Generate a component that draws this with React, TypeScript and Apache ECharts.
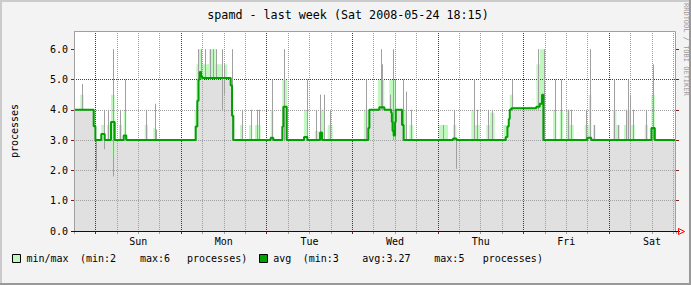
import React, { useEffect, useRef } from "react";
import * as echarts from "echarts";

// hours since Sat 2008-05-17 00:00
const DAY_LABELS = ["Sun", "Mon", "Tue", "Wed", "Thu", "Fri", "Sat"];
const DAY_LABEL_HOURS = [36, 60, 84, 108, 132, 156, 180];
const MIDNIGHT_HOURS = [24, 48, 72, 96, 120, 144, 168];
const Y_MAJOR = [0, 1, 2, 3, 4, 5, 6];

const MAX_T = [18, 19.77, 20.72, 24.17, 25.65, 26.61, 27.25, 28.01, 28.37, 29.41, 30.62, 31.46, 31.93, 32.66, 37.82, 38.75, 40.23, 40.99,
  51.8, 52.3, 52.76, 53.69, 55.85, 57.72, 59.58, 60.05, 60.98, 62.0, 62.66,
  64.54, 65.46, 67.06, 67.99, 68.74, 70.34, 73.14, 73.87, 76.4, 77.8, 82.48, 83.41, 85.5, 86.6, 87.0, 88.17, 89.12, 90.53,
  99.22, 103.14, 104.99, 106.39, 108.27, 111.08, 112.0, 113.12,
  120.33, 122.85, 124.25, 125.18, 129.38, 130.4, 131.74, 133.59, 134.6, 135.94, 138.4, 140.15, 141.16, 147.6, 148.56, 149.96,
  152.29, 153.22, 154.17, 155.09, 156.02, 156.97, 158.09, 161.17, 162.38, 163.02, 163.5, 164.15,
  169.11, 170.04, 170.99, 172.19, 173.03, 173.79, 174.24, 175.19, 177.99, 178.92, 179.84, 180.79, 186.75];
const MAX_V = [4.0, 4.5, 4.0, 3.0, 3.5, 3.0, 3.5, 3.0, 4.5, 3.0, 3.5, 3.0, 4.0, 3.0, 3.5, 3.0, 3.4, 3.0,
  4.0, 5.5, 6.0, 5.5, 6.0, 5.5, 5.0, 5.5, 5.0, 4.0, 3.0,
  3.5, 3.0, 3.5, 3.0, 3.5, 3.0, 4.0, 3.0, 5.0, 3.0, 4.0, 3.0, 3.3, 3.0, 4.0, 3.0, 3.5, 3.0,
  4.0, 5.0, 4.0, 5.0, 4.0, 3.0, 3.5, 3.0,
  3.5, 3.0, 3.5, 3.0, 4.0, 3.5, 3.0, 3.5, 3.9, 3.0, 3.5, 4.5, 4.1, 5.5, 6.0, 3.0,
  4.0, 3.0, 4.0, 3.0, 4.0, 3.5, 3.0, 3.5, 4.5, 3.0, 3.5, 3.0,
  4.0, 3.5, 3.0, 3.5, 4.0, 3.0, 3.5, 3.0, 3.5, 3.0, 4.5, 3.0, 3.0];

const MIN_T = [18, 23.52, 24.0, 24.17, 24.53, 26.1, 26.5, 28.46, 29.3, 52.12, 52.57, 52.9, 61.93, 62.3, 62.66,
  100.5, 100.8, 106.9, 107.1, 108.2, 109.95, 110.4, 125.1, 125.5, 139.03, 139.5, 139.87, 140.15, 149.57, 186.75];
const MIN_V = [4.0, 3.5, 3.0, 2.5, 3.0, 2.8, 3.0, 2.45, 3.0, 3.4, 4.2, 5.0, 4.6, 3.6, 3.0,
  3.3, 4.0, 3.6, 3.0, 4.0, 3.3, 3.0, 2.55, 3.0, 3.1, 3.4, 3.7, 4.0, 3.0, 3.0];

const AVG_T = [18, 23.52, 24.0, 25.65, 26.61, 28.37, 29.41, 31.93, 32.66, 52.12, 52.57, 52.9, 53.24, 53.6, 53.97, 61.93, 62.3, 62.66,
  73.14, 73.87, 76.4, 76.68, 77.63, 82.48, 83.41, 86.97, 87.53,
  100.5, 100.8, 103.6, 105.0, 106.9, 107.1, 107.3, 107.6, 108.0, 108.2, 109.95, 110.4,
  124.25, 125.18, 139.03, 139.5, 139.87, 140.15, 140.6, 147.61, 148.56, 149.2, 149.57, 161.9, 163.0, 179.86, 180.81, 186.75];
const AVG_V = [4.0, 3.46, 3.0, 3.2, 3.0, 3.6, 3.0, 3.15, 3.0, 3.45, 4.3, 5.0, 5.25, 5.1, 5.05, 4.8, 3.8, 3.0,
  3.08, 3.0, 3.45, 4.1, 3.0, 3.1, 3.0, 3.25, 3.0,
  3.4, 4.0, 4.08, 4.0, 3.9, 3.6, 3.3, 3.15, 3.6, 4.0, 3.5, 3.0,
  3.05, 3.0, 3.1, 3.45, 3.7, 4.0, 4.05, 4.1, 4.2, 4.5, 3.0, 3.08, 3.0, 3.4, 3.0, 3.0];

const SPIKE_T = [20.2, 24.3, 26.3, 27.6, 28.9, 31.0, 32.3, 38.3, 40.6, 40.9,
  52.85, 53.69, 54.73, 56.13, 57.06, 57.72, 59.4, 60.14, 62.21,
  65.0, 67.5, 69.2, 69.9, 73.5, 76.8, 83.2, 85.84, 87.0, 88.0, 89.8,
  99.8, 104.07, 104.34, 106.6, 107.52, 107.98, 110.15, 111.08, 112.48,
  121.45, 124.53, 125.18, 130.14, 131.06, 134.06, 135.18, 140.8, 148.1, 149.77,
  152.77, 154.45, 156.49, 157.42, 161.62, 162.74, 163.78, 169.39, 170.51, 172.67, 173.31, 173.79, 174.72, 178.45, 180.33];
const SPIKE_LO = [4.0, 2.0, 2.7, 3.0, 1.8, 3.0, 3.0, 3.0, 3.0, 3.0,
  5.0, 5.0, 5.0, 5.0, 5.0, 5.0, 4.0, 4.5, 3.0,
  3.0, 3.0, 3.0, 3.0, 3.0, 3.0, 3.0, 3.0, 3.0, 3.0, 3.0,
  3.0, 4.0, 4.0, 4.0, 3.0, 3.0, 3.0, 3.0, 3.0,
  3.0, 3.0, 2.05, 3.0, 3.0, 3.0, 3.0, 4.0, 4.0, 3.0,
  3.0, 3.0, 3.0, 3.0, 3.0, 3.0, 3.0, 3.0, 3.0, 3.0, 3.0, 3.0, 3.0, 3.0, 3.0];
const SPIKE_HI = [4.85, 3.0, 4.0, 4.0, 6.0, 4.0, 5.0, 4.0, 4.2, 3.35,
  6.0, 6.0, 6.0, 6.0, 6.0, 6.0, 6.0, 5.5, 6.0,
  4.0, 4.0, 4.0, 4.0, 5.0, 6.0, 5.0, 4.0, 4.5, 4.5, 4.0,
  5.0, 6.0, 5.5, 4.5, 6.0, 5.0, 5.0, 4.6, 4.0,
  3.5, 4.0, 3.0, 5.0, 4.0, 4.0, 4.0, 5.0, 6.0, 6.0,
  5.0, 5.0, 4.0, 4.0, 4.0, 6.0, 3.5, 5.0, 3.5, 4.0, 5.0, 4.5, 4.0, 4.0, 5.5];

const GRID_C = "#a0a0a0";
const MGRID_C = "#821e1e";
const FONT = '"DejaVu Sans Mono", monospace';

const pairs = (t: number[], v: number[]) => t.map((x, i) => [x, v[i]]);
const isInt = (v: number) => Math.abs(v - Math.round(v)) < 1e-6;

export default function App() {
  const ref = useRef<HTMLDivElement>(null);
  useEffect(() => {
    const chart = echarts.init(ref.current!, null, { renderer: "svg" });
    const txt = (text: string, x: number, y: number, extra: any = {}) => ({
      type: "text", x, y, z: 100,
      style: { text, fill: "#000", font: `10px ${FONT}`, textAlign: "left", textVerticalAlign: "middle", ...extra },
    });
    chart.setOption({
      animation: false,
      backgroundColor: "#f3f3f3",
      textStyle: { fontFamily: FONT },
      grid: { left: 74, top: 31, width: 602, height: 200, show: true, backgroundColor: "#ffffff", borderWidth: 0 },
      xAxis: [
        {
          type: "value", position: "bottom", min: 18, max: 186.75, interval: 6, z: 5,
          axisLine: { show: false },
          axisTick: { show: true, length: 3, lineStyle: { color: GRID_C } },
          axisLabel: {
            show: true, fontSize: 10, color: "#000", margin: 5, fontFamily: FONT,
            formatter: (v: number) => {
              const i = DAY_LABEL_HOURS.findIndex((h) => Math.abs(h - v) < 1e-6);
              return i >= 0 ? DAY_LABELS[i] : "";
            },
          },
          splitLine: { show: true, showMaxLine: false, lineStyle: { color: [GRID_C, MGRID_C, GRID_C, GRID_C], type: [1, 1], width: 1 } },
        },
        {
          type: "value", position: "bottom", min: 18, max: 186.75, z: 6,
          axisLine: { show: false }, axisLabel: { show: false }, splitLine: { show: false },
          axisTick: { show: true, length: 3, customValues: MIDNIGHT_HOURS, lineStyle: { color: MGRID_C } },
        },
      ],
      yAxis: [
        {
          type: "value", min: 0, max: 6.6, interval: 0.2, z: 5,
          axisLine: { show: false },
          axisTick: { show: true, length: 3, customValues: Y_MAJOR, lineStyle: { color: MGRID_C } },
          axisLabel: { fontSize: 10, color: "#000", margin: 6, fontFamily: FONT, formatter: (v: number) => (isInt(v) ? v.toFixed(1) : "") },
          splitLine: { show: true, showMaxLine: false, lineStyle: { color: [MGRID_C, GRID_C, GRID_C, GRID_C, GRID_C], type: [1, 1], width: 1 } },
        },
        {
          type: "value", position: "right", min: 0, max: 6.6, interval: 0.2, z: 5,
          axisLine: { show: false }, axisLabel: { show: false }, splitLine: { show: false },
          axisTick: { show: true, length: 3, customValues: Y_MAJOR, lineStyle: { color: MGRID_C } },
        },
      ],
      series: [
        {
          type: "line", name: "max", data: pairs(MAX_T, MAX_V), step: "end", symbol: "none", silent: true,
          lineStyle: { width: 0, opacity: 0 }, areaStyle: { color: "#c0f8c0", opacity: 1 }, z: 2,
        },
        {
          type: "line", name: "min", data: pairs(MIN_T, MIN_V), step: "end", symbol: "none", silent: true,
          lineStyle: { width: 0, opacity: 0 }, areaStyle: { color: "#e0e0e0", opacity: 1 }, z: 3,
        },
        {
          type: "custom", name: "spikes", silent: true, z: 7,
          data: SPIKE_T.map((t, i) => [t, SPIKE_LO[i], SPIKE_HI[i]]),
          encode: { x: 0, y: [1, 2] },
          renderItem: (_p: any, api: any) => {
            const a = api.coord([api.value(0), api.value(1)]);
            const b = api.coord([api.value(0), api.value(2)]);
            const x = Math.round(a[0]) + 0.5;
            return { type: "line", shape: { x1: x, y1: a[1], x2: x, y2: b[1] }, style: { stroke: "#a0a0a0", lineWidth: 1 } };
          },
        },
        {
          type: "line", name: "avg", data: pairs(AVG_T, AVG_V), step: "end", symbol: "none", silent: true,
          lineStyle: { color: "#00a000", width: 2 }, z: 10,
        },
      ],
      graphic: [
        { type: "rect", z: 90, shape: { x: 74.5, y: 31.5, width: 601, height: 200 }, style: { fill: "none", stroke: "#a0a0a0", lineWidth: 1 } },
        { type: "line", z: 95, shape: { x1: 71, y1: 231.5, x2: 680, y2: 231.5 }, style: { stroke: "#111", lineWidth: 1 } },
        { type: "polygon", z: 96, shape: { points: [[678.5, 228.5], [684.5, 231.5], [678.5, 234.5]] }, style: { fill: "none", stroke: "#ff0000", lineWidth: 1 } },
        { type: "rect", z: 100, shape: { x: 0, y: 0, width: 691, height: 2 }, style: { fill: "#cbcbcb" } },
        { type: "rect", z: 100, shape: { x: 0, y: 0, width: 2, height: 285 }, style: { fill: "#cbcbcb" } },
        { type: "rect", z: 100, shape: { x: 0, y: 283, width: 691, height: 2 }, style: { fill: "#999999" } },
        { type: "rect", z: 100, shape: { x: 689, y: 0, width: 2, height: 285 }, style: { fill: "#999999" } },
        txt("spamd - last week (Sat 2008-05-24 18:15)", 348, 15, { font: `11.7px ${FONT}`, textAlign: "center" }),
        { ...txt("processes", 14, 131, { textAlign: "center" }), rotation: Math.PI / 2 },
        { ...txt("RRDTOOL / TOBI OETIKER", 686, 3, { font: `7px ${FONT}`, fill: "#999999" }), rotation: -Math.PI / 2 },
        { type: "rect", z: 100, shape: { x: 12.5, y: 254.5, width: 8, height: 8 }, style: { fill: "#c0f8c0", stroke: "#000", lineWidth: 1 } },
        txt("min/max", 26.5, 258.5),
        txt("(min:2", 80, 258.5),
        txt("max:6", 140, 258.5),
        txt("processes)", 187, 258.5),
        { type: "rect", z: 100, shape: { x: 259.5, y: 254.5, width: 8, height: 8 }, style: { fill: "#00a000", stroke: "#000", lineWidth: 1 } },
        txt("avg", 273.3, 258.5),
        txt("(min:3", 302.7, 258.5),
        txt("avg:3.27", 362.3, 258.5),
        txt("max:5", 434.3, 258.5),
        txt("processes)", 482.7, 258.5),
      ],
    });
    return () => chart.dispose();
  }, []);
  return <div ref={ref} style={{ position: "fixed", left: 0, top: 0, width: 691, height: 285 }} />;
}
